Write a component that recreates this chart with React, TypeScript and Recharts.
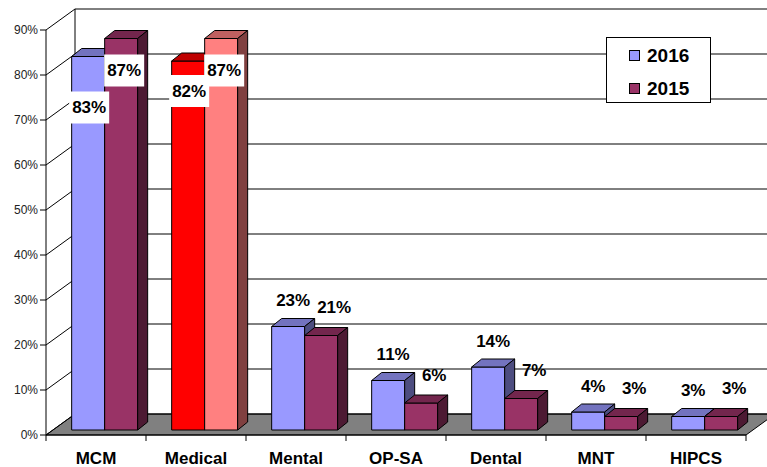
import React from 'react';
import { BarChart, Bar, Cell, XAxis, YAxis, CartesianGrid, LabelList, Legend } from 'recharts';

const categories = ['MCM', 'Medical', 'Mental', 'OP-SA', 'Dental', 'MNT', 'HIPCS'];
const values2016 = [83, 82, 23, 11, 14, 4, 3];
const values2015 = [87, 87, 21, 6, 7, 3, 3];
const yTicks = [0, 10, 20, 30, 40, 50, 60, 70, 80, 90];

const COLOR_2016 = '#9999FF';
const COLOR_2015 = '#993366';
// Medical is picked out in reds
const highlightCategory = 'Medical';
const HIGHLIGHT_2016 = '#FF0000';
const HIGHLIGHT_2015 = '#FF8080';

const data = categories.map((name, i) => ({ name, v2016: values2016[i], v2015: values2015[i] }));

// Layout
const CHART_W = 767;
const CHART_H = 467;
const Y_AXIS_W = 46;
const X_AXIS_H = 32;
const MARGIN = { top: 30, right: 21, left: 0, bottom: 0 };
const PLOT_W = CHART_W - Y_AXIS_W - MARGIN.right;
const AXIS_Y = CHART_H - X_AXIS_H;

// 3D projection: walls sit this far back, bars sit mid-depth
const WALL_DX = 29;
const WALL_DY = -21;
const BAR_DX = 9;
const BAR_DY = -5;
const DEPTH_DX = 10;
const DEPTH_DY = -8;

const FONT = 'Arial, "Liberation Sans", sans-serif';

const shade = (hex: string, k: number) => {
  const n = parseInt(hex.slice(1), 16);
  const r = Math.round(((n >> 16) & 255) * k);
  const g = Math.round(((n >> 8) & 255) * k);
  const b = Math.round((n & 255) * k);
  return `rgb(${r},${g},${b})`;
};

const Box3D = (props: any) => {
  const { x, y, width, height, fill } = props;
  if (height == null || width == null) return null;
  const fx = x + BAR_DX;
  const fy = y + BAR_DY;
  const top = `${fx},${fy} ${fx + DEPTH_DX},${fy + DEPTH_DY} ${fx + width + DEPTH_DX},${fy + DEPTH_DY} ${fx + width},${fy}`;
  const side = `${fx + width},${fy} ${fx + width + DEPTH_DX},${fy + DEPTH_DY} ${fx + width + DEPTH_DX},${fy + height + DEPTH_DY} ${fx + width},${fy + height}`;
  return (
    <g stroke="#000" strokeWidth={1} strokeLinejoin="round">
      <rect x={fx} y={fy} width={width} height={height} fill={fill} />
      <polygon points={top} fill={shade(fill, 0.75)} />
      <polygon points={side} fill={shade(fill, 0.5)} />
    </g>
  );
};

// Back wall gridlines, left wall diagonals and the grey floor
const wallLine = (p: any) => {
  const { x1, y1, x2, y, height } = p;
  const bx = x1 + WALL_DX;
  const by = y1 + WALL_DY;
  const isFloor = Math.abs(y1 - (y + height)) < 0.5;
  return (
    <g key={p.key}>
      {isFloor && (
        <>
          <polygon
            points={`${x1},${y1} ${x2},${y1} ${x2 + WALL_DX},${by} ${bx},${by}`}
            fill="#808080"
            stroke="#000"
          />
          <line x1={bx} y1={y + WALL_DY} x2={bx} y2={by} stroke="#000" />
        </>
      )}
      <line x1={x1} y1={y1} x2={bx} y2={by} stroke="#000" />
      <line x1={bx} y1={by} x2={x2 + WALL_DX + 40} y2={by} stroke="#000" />
    </g>
  );
};

const CategoryTick = (props: any) => {
  const { x, payload, index } = props;
  const band = PLOT_W / categories.length;
  return (
    <g>
      <line x1={x - band / 2} y1={AXIS_Y} x2={x - band / 2} y2={AXIS_Y + 6} stroke="#000" />
      {index === categories.length - 1 && (
        <line x1={x + band / 2} y1={AXIS_Y} x2={x + band / 2} y2={AXIS_Y + 6} stroke="#000" />
      )}
      <text x={x} y={AXIS_Y + 23} textAnchor="middle" dominantBaseline="central"
        fontFamily={FONT} fontSize={17} fontWeight="bold" fill="#000">
        {payload.value}
      </text>
    </g>
  );
};

// Tall bars carry their label inside, on a white patch
const insideDrop: Record<string, number> = { MCM: 21 };

const makeLabel = (series: '2016' | '2015') => (p: any) => {
  const { x, y, width, value, index } = p;
  const fx = x + BAR_DX;
  const top = y + BAR_DY;
  const cx = fx + width / 2;
  const txt = `${value}%`;
  const textProps = {
    textAnchor: 'middle' as const,
    dominantBaseline: 'central' as const,
    fontFamily: FONT,
    fontSize: 17,
    fontWeight: 'bold',
    fill: '#000',
  };
  if (value >= 50) {
    const lx = cx + (series === '2016' ? 1 : 3);
    const extra = series === '2016' ? insideDrop[categories[index]] || 0 : 0;
    const ly = top + (series === '2016' ? 30 : 32) + extra;
    return (
      <g>
        <rect x={lx - 20} y={ly - 16} width={40} height={32} fill="#fff" />
        <text x={lx} y={ly} {...textProps}>{txt}</text>
      </g>
    );
  }
  const lx = cx + (series === '2016' ? 5 : 13);
  const ly = top - (series === '2016' ? 26 : 28);
  return <text x={lx} y={ly} {...textProps}>{txt}</text>;
};

const LegendBox = ({ payload }: any) => {
  const entries = [...(payload || [])].sort((a: any, b: any) => String(b.value).localeCompare(String(a.value)));
  return (
    <div style={{
      width: '100%', height: '100%', boxSizing: 'border-box', border: '1px solid #000',
      background: '#fff', paddingTop: 1, paddingLeft: 22,
    }}>
      {entries.map((entry: any) => (
        <div key={entry.value} style={{ display: 'flex', alignItems: 'center', height: 33 }}>
          <span style={{
            display: 'inline-block', width: 11, height: 11, boxSizing: 'border-box',
            border: '1px solid #000', background: entry.color, marginRight: 7,
          }} />
          <span style={{ fontFamily: FONT, fontSize: 19, fontWeight: 'bold', color: '#000', lineHeight: '19px' }}>
            {entry.value}
          </span>
        </div>
      ))}
    </div>
  );
};

const App: React.FC = () => (
  <div style={{ position: 'absolute', left: 0, top: 0, background: '#fff' }}>
    <BarChart width={CHART_W} height={CHART_H} data={data} margin={MARGIN}
      barCategoryGap="16.67%" barGap={0}>
      <CartesianGrid horizontal={wallLine} vertical={false} />
      <XAxis dataKey="name" interval={0} height={X_AXIS_H} tickLine={false}
        axisLine={{ stroke: '#000' }} tick={<CategoryTick />} />
      <YAxis width={Y_AXIS_W} domain={[0, 90]} ticks={yTicks} interval={0}
        tickFormatter={(v: number) => `${v}%`} tickSize={6} tickMargin={2}
        tickLine={{ stroke: '#000' }} axisLine={{ stroke: '#000' }}
        tick={{ fontFamily: FONT, fontSize: 12, fill: '#222' }} />
      <Legend layout="horizontal" verticalAlign="middle" align="center"
        wrapperStyle={{ left: 606, top: 37, width: 105, height: 66 }}
        content={<LegendBox />} />
      <Bar dataKey="v2016" name="2016" fill={COLOR_2016} shape={<Box3D />} isAnimationActive={false}>
        {data.map((d) => (
          <Cell key={d.name} fill={d.name === highlightCategory ? HIGHLIGHT_2016 : COLOR_2016} />
        ))}
        <LabelList dataKey="v2016" content={makeLabel('2016')} />
      </Bar>
      <Bar dataKey="v2015" name="2015" fill={COLOR_2015} shape={<Box3D />} isAnimationActive={false}>
        {data.map((d) => (
          <Cell key={d.name} fill={d.name === highlightCategory ? HIGHLIGHT_2015 : COLOR_2015} />
        ))}
        <LabelList dataKey="v2015" content={makeLabel('2015')} />
      </Bar>
    </BarChart>
  </div>
);

export default App;
